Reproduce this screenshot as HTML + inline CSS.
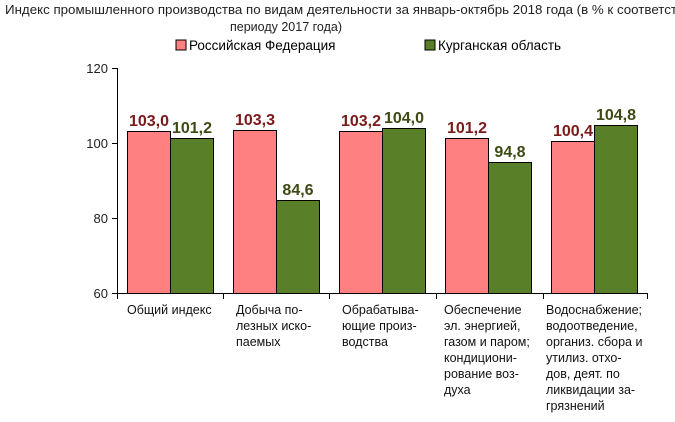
<!DOCTYPE html>
<html><head><meta charset="utf-8"><style>
body{margin:0;background:#fff;}
svg{display:block;font-family:"Liberation Sans","DejaVu Sans",sans-serif;}
</style></head><body>
<svg width="675" height="422" viewBox="0 0 675 422">
<text x="5" y="14" font-size="12.5" fill="#222" textLength="672" lengthAdjust="spacingAndGlyphs">Индекс промышленного производства по видам деятельности за январь-октябрь 2018 года (в % к соответст</text>
<text x="286" y="31" font-size="12.5" text-anchor="middle" fill="#222">периоду 2017 года)</text>
<rect x="176" y="40" width="10" height="10" fill="#ff8080" stroke="#000" stroke-width="1"/>
<text x="189" y="50" font-size="13.5">Российская Федерация</text>
<rect x="425" y="40" width="10" height="10" fill="#5a7f29" stroke="#000" stroke-width="1"/>
<text x="438" y="50" font-size="13.5">Курганская область</text>
<g stroke="#000" stroke-width="1">
<line x1="117.5" y1="68" x2="117.5" y2="293"/>
<line x1="112" y1="68.5" x2="117" y2="68.5"/>
<line x1="112" y1="143.5" x2="117" y2="143.5"/>
<line x1="112" y1="218.5" x2="117" y2="218.5"/>
<line x1="112" y1="293.5" x2="648" y2="293.5"/>
<line x1="117.5" y1="293" x2="117.5" y2="299"/>
<line x1="223.5" y1="293" x2="223.5" y2="299"/>
<line x1="329.5" y1="293" x2="329.5" y2="299"/>
<line x1="436.5" y1="293" x2="436.5" y2="299"/>
<line x1="543.5" y1="293" x2="543.5" y2="299"/>
<line x1="647.5" y1="293" x2="647.5" y2="299"/>
</g>
<g font-size="13" text-anchor="end" fill="#222">
<text x="108" y="73">120</text><text x="108" y="148">100</text><text x="108" y="223">80</text><text x="108" y="298">60</text>
</g>
<g stroke="#000" stroke-width="1">
<rect x="127.5" y="131.5" width="43" height="162" fill="#ff8080"/>
<rect x="170.5" y="138.5" width="43" height="155" fill="#5a7f29"/>
<rect x="233.5" y="130.5" width="43" height="163" fill="#ff8080"/>
<rect x="276.5" y="200.5" width="43" height="93" fill="#5a7f29"/>
<rect x="339.5" y="131.5" width="43" height="162" fill="#ff8080"/>
<rect x="382.5" y="128.5" width="43" height="165" fill="#5a7f29"/>
<rect x="445.5" y="138.5" width="43" height="155" fill="#ff8080"/>
<rect x="488.5" y="162.5" width="43" height="131" fill="#5a7f29"/>
<rect x="551.5" y="141.5" width="43" height="152" fill="#ff8080"/>
<rect x="594.5" y="125.5" width="43" height="168" fill="#5a7f29"/>
</g>
<g font-size="16" font-weight="bold" text-anchor="middle">
<text x="149" y="126" fill="#7a1a1a">103,0</text>
<text x="192" y="133" fill="#3d4a14">101,2</text>
<text x="255" y="125" fill="#7a1a1a">103,3</text>
<text x="298" y="195" fill="#3d4a14">84,6</text>
<text x="361" y="126" fill="#7a1a1a">103,2</text>
<text x="404" y="123" fill="#3d4a14">104,0</text>
<text x="467" y="133" fill="#7a1a1a">101,2</text>
<text x="510" y="157" fill="#3d4a14">94,8</text>
<text x="573" y="136" fill="#7a1a1a">100,4</text>
<text x="616" y="120" fill="#3d4a14">104,8</text>
</g>
<g font-size="12.5" fill="#111">
<text x="127" y="314">Общий индекс</text>
<text x="236" y="314">Добыча по-</text><text x="236" y="330">лезных иско-</text><text x="236" y="346">паемых</text>
<text x="342" y="314">Обрабатыва-</text><text x="342" y="330">ющие произ-</text><text x="342" y="346">водства</text>
<text x="444" y="314">Обеспечение</text><text x="444" y="330">эл. энергией,</text><text x="444" y="346">газом и паром;</text><text x="444" y="362">кондициони-</text><text x="444" y="378">рование воз-</text><text x="444" y="394">духа</text>
<text x="546" y="314">Водоснабжение;</text><text x="546" y="330">водоотведение,</text><text x="546" y="346">организ. сбора и</text><text x="546" y="362">утилиз. отхо-</text><text x="546" y="378">дов, деят. по</text><text x="546" y="394">ликвидации за-</text><text x="546" y="410">грязнений</text>
</g>
</svg>
</body></html>
